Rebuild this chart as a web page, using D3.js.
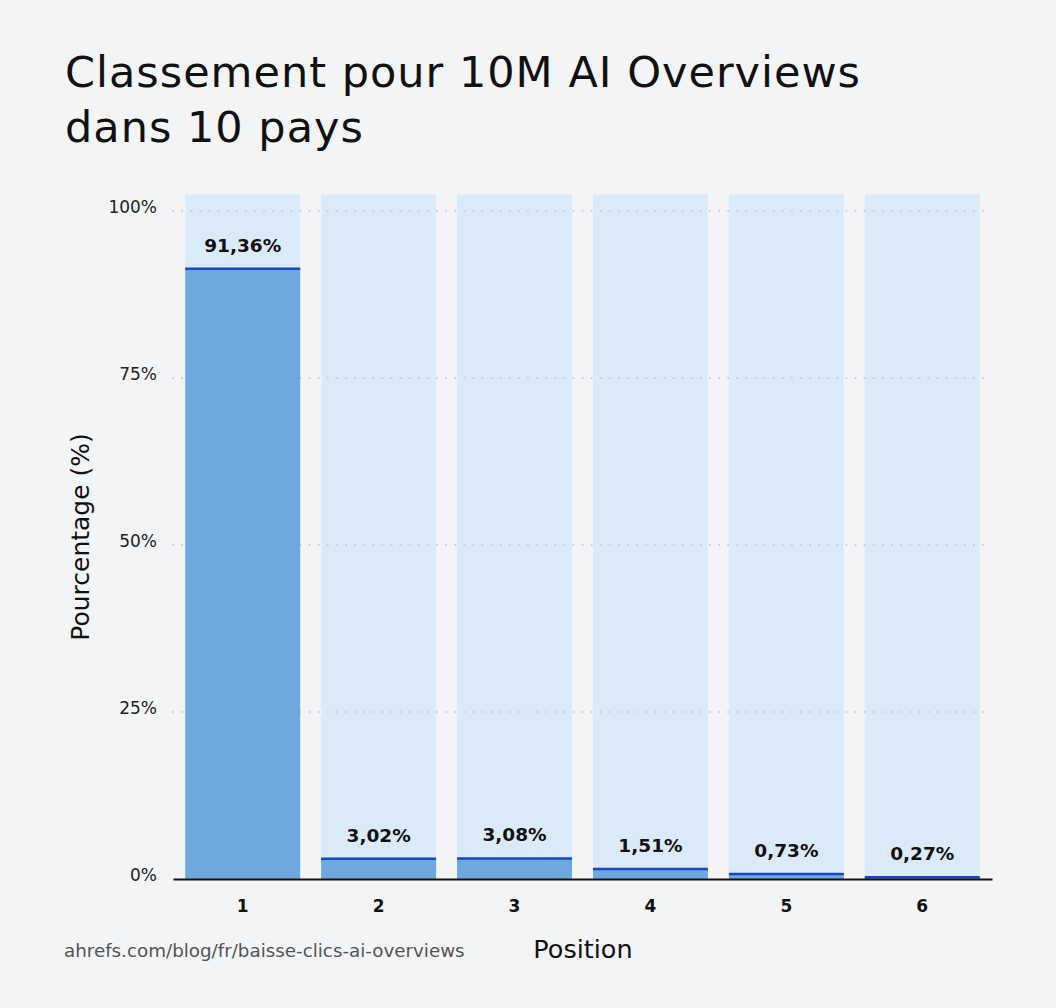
<!DOCTYPE html>
<html>
<head>
<meta charset="utf-8">
<script src="https://cdn.jsdelivr.net/npm/d3@7"></script>
<style>
  body { margin: 0; background: #f3f4f5; }
  svg { display: block; font-family: "DejaVu Sans", sans-serif; }
</style>
</head>
<body>
<svg width="1056" height="1008"></svg>
<script>
// chart data
var positions = ['1', '2', '3', '4', '5', '6'];
var percents = [91.36, 3.02, 3.08, 1.51, 0.73, 0.27];
var valueLabels = ['91,36%', '3,02%', '3,08%', '1,51%', '0,73%', '0,27%'];
var yTicks = [0, 25, 50, 75, 100];

var svg = d3.select('svg');
var svgWidth = +svg.attr('width');
var svgHeight = +svg.attr('height');
var padding = {t: 211, r: 64, b: 129, l: 173};
var chartWidth = svgWidth - padding.l - padding.r;
var chartHeight = svgHeight - padding.t - padding.b;

svg.append('rect').attr('width', svgWidth).attr('height', svgHeight).attr('fill', '#f3f4f5');

// title
var title = svg.append('text')
    .attr('x', 65)
    .attr('y', 87)
    .attr('font-size', 43)
    .attr('letter-spacing', 1)
    .attr('fill', '#111');
title.append('tspan').attr('x', 65).text('Classement pour 10M AI Overviews');
title.append('tspan').attr('x', 65).attr('dy', 55).text('dans 10 pays');

var chartG = svg.append('g')
    .attr('transform', 'translate(' + [padding.l, padding.t] + ')');

var xScale = d3.scaleBand().domain(positions).range([0, chartWidth]).paddingInner(0.154).paddingOuter(0.09);
var yScale = d3.scaleLinear().domain([0, 100]).range([chartHeight, 0]);

// background columns
chartG.selectAll('rect.bg')
    .data(positions)
    .enter()
    .append('rect')
    .attr('class', 'bg')
    .attr('x', function(d) { return xScale(d); })
    .attr('y', yScale(102.5))
    .attr('width', xScale.bandwidth())
    .attr('height', yScale(0) - yScale(102.5))
    .attr('fill', '#dbeaf9');

// dotted gridlines
chartG.selectAll('line.grid')
    .data(yTicks.filter(function(d) { return d > 0; }))
    .enter()
    .append('line')
    .attr('class', 'grid')
    .attr('x1', 0)
    .attr('x2', chartWidth)
    .attr('y1', function(d) { return yScale(d); })
    .attr('y2', function(d) { return yScale(d); })
    .attr('stroke', '#c9ccd2')
    .attr('stroke-width', 2)
    .attr('stroke-linecap', 'round')
    .attr('stroke-dasharray', '0.1 9');

// y tick labels
chartG.selectAll('text.ytick')
    .data(yTicks)
    .enter()
    .append('text')
    .attr('class', 'ytick')
    .attr('x', -16)
    .attr('y', function(d) { return yScale(d) + 2; })
    .attr('text-anchor', 'end')
    .attr('font-size', 17)
    .attr('fill', '#222')
    .text(function(d) { return d + '%'; });

// value bars
var bars = chartG.selectAll('g.bar')
    .data(percents)
    .enter()
    .append('g')
    .attr('class', 'bar');

bars.append('rect')
    .attr('x', function(d, i) { return xScale(positions[i]); })
    .attr('y', function(d) { return yScale(d); })
    .attr('width', xScale.bandwidth())
    .attr('height', function(d) { return yScale(0) - yScale(d); })
    .attr('fill', '#6fa8dd');

bars.append('line')
    .attr('x1', function(d, i) { return xScale(positions[i]); })
    .attr('x2', function(d, i) { return xScale(positions[i]) + xScale.bandwidth(); })
    .attr('y1', function(d) { return yScale(d); })
    .attr('y2', function(d) { return yScale(d); })
    .attr('stroke', '#1747c4')
    .attr('stroke-width', 2.5);

bars.append('text')
    .attr('x', function(d, i) { return xScale(positions[i]) + xScale.bandwidth() / 2; })
    .attr('y', function(d) { return yScale(d) - 17; })
    .attr('text-anchor', 'middle')
    .attr('font-size', 18.5)
    .attr('font-weight', 'bold')
    .attr('fill', '#111')
    .text(function(d, i) { return valueLabels[i]; });

// baseline axis
var xAxis = d3.axisBottom(xScale).tickSize(0).tickPadding(21);
var xAxisG = chartG.append('g')
    .attr('transform', 'translate(0,' + chartHeight + ')')
    .call(xAxis);
xAxisG.select('.domain').attr('stroke', '#111').attr('stroke-width', 2);
xAxisG.selectAll('text').attr('font-size', 17).attr('font-weight', 'bold').attr('fill', '#111')
    .attr('font-family', '"DejaVu Sans", sans-serif');

// axis titles
svg.append('text')
    .attr('transform', 'translate(89,' + (padding.t + yScale(50) - 8) + ') rotate(-90)')
    .attr('text-anchor', 'middle')
    .attr('font-size', 25)
    .attr('fill', '#111')
    .text('Pourcentage (%)');

svg.append('text')
    .attr('x', 583)
    .attr('y', 958)
    .attr('text-anchor', 'middle')
    .attr('font-size', 25.5)
    .attr('fill', '#111')
    .text('Position');

svg.append('text')
    .attr('x', 64)
    .attr('y', 957)
    .attr('font-size', 18.3)
    .attr('fill', '#555')
    .text('ahrefs.com/blog/fr/baisse-clics-ai-overviews');
</script>
</body>
</html>
